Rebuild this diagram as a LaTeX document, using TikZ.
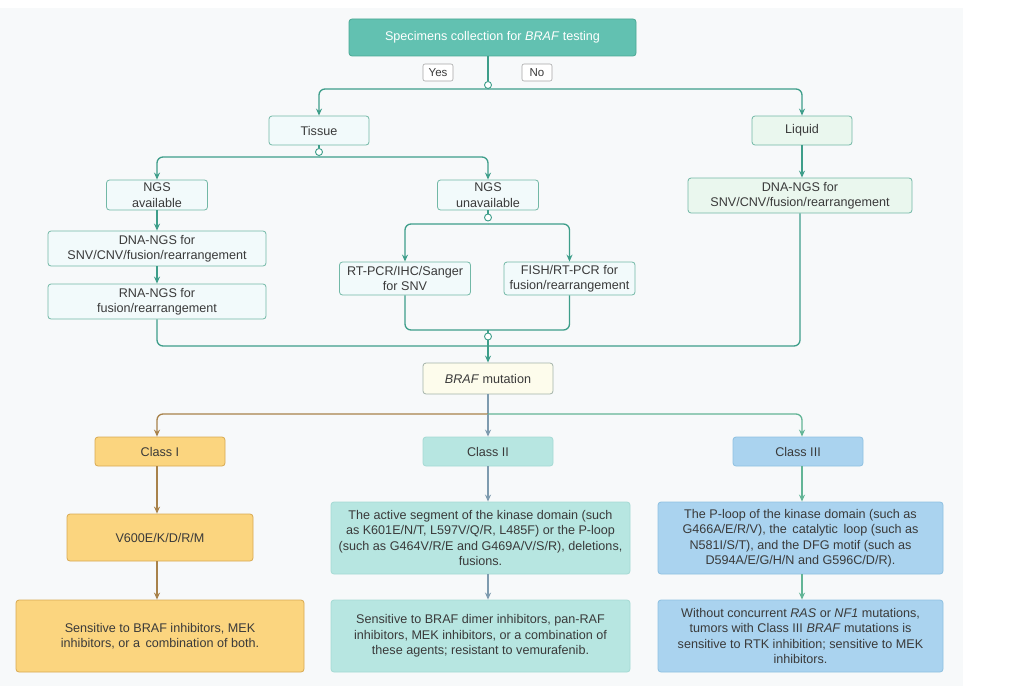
\documentclass[tikz,border=0pt]{standalone}
\usepackage{fontspec}
\setmainfont{Liberation Sans}
\usetikzlibrary{arrows.meta}
\definecolor{panel}{HTML}{F7F9FA}
\definecolor{txt}{HTML}{3A3A3A}
\definecolor{conn}{HTML}{3E9E8A}
\definecolor{topfill}{HTML}{62C1B1}
\definecolor{topdraw}{HTML}{4AA894}
\definecolor{lightfill}{HTML}{F2FAFB}
\definecolor{lightdraw}{HTML}{72B8A6}
\definecolor{liqfill}{HTML}{EAF7EE}
\definecolor{brfill}{HTML}{FDFCEC}
\definecolor{brdraw}{HTML}{A3B3AA}
\definecolor{cAfill}{HTML}{FBD57F}
\definecolor{cAdraw}{HTML}{D8AA52}
\definecolor{cAarr}{HTML}{A8824A}
\definecolor{cBfill}{HTML}{B7E6E1}
\definecolor{cBdraw}{HTML}{A5DAD4}
\definecolor{cBarr}{HTML}{7E9BAF}
\definecolor{cCfill}{HTML}{AAD3EF}
\definecolor{cCdraw}{HTML}{8FC1E1}
\definecolor{cCarr}{HTML}{62B596}
\tikzset{
  every node/.style={font=\fontsize{12.6}{15.5}\selectfont, text=txt, align=center, inner sep=1pt},
  box/.style={draw, rounded corners=3pt, line width=0.8pt},
  lbox/.style={box, draw=lightdraw, fill=lightfill},
  tag/.style={draw=gray!70, fill=white, rounded corners=2pt, line width=0.6pt, minimum width=30pt, minimum height=17pt, font=\fontsize{11.5}{13}\selectfont},
  junc/.style={circle, draw=conn, fill=white, line width=0.9pt, minimum size=7pt, inner sep=0pt},
  line/.style={draw=conn, line width=1.3pt, rounded corners=6pt},
  arr/.style={line, -{Stealth[length=7pt,width=6pt]}},
  arrA/.style={draw=cAarr, line width=1.3pt, rounded corners=6pt, -{Stealth[length=7pt,width=6pt]}},
  arrB/.style={draw=cBarr, line width=1.3pt, rounded corners=6pt, -{Stealth[length=7pt,width=6pt]}},
  arrC/.style={draw=cCarr, line width=1.3pt, rounded corners=6pt, -{Stealth[length=7pt,width=6pt]}},
  cA/.style={box, draw=cAdraw, fill=cAfill},
  cB/.style={box, draw=cBdraw, fill=cBfill},
  cC/.style={box, draw=cCdraw, fill=cCfill},
}
\begin{document}
\begin{tikzpicture}[x=1pt, y=-1pt]
\useasboundingbox (0,0) rectangle (1016,693);
\fill[panel] (0,8) rectangle (963,686);

\coordinate (xA) at (157,0);
\coordinate (xC) at (802,0);

% top
\node[box, draw=topdraw, fill=topfill, text=white, minimum width=287pt, minimum height=37pt] (top) at (492.5,37.5) {Specimens collection for \textit{BRAF} testing};
\node[tag] (yes) at (438,72.5) {Yes};
\node[tag] (no) at (537,72.5) {No};
\node[junc] (c1) at (488,85) {};
\coordinate (j1) at (488,89);

\node[lbox, minimum width=100pt, minimum height=29pt] (tissue) at (319,130.5) {Tissue};
\node[box, draw=lightdraw, fill=liqfill, minimum width=100pt, minimum height=29pt] (liquid) at (802,130.5) {Liquid};

\node[junc] (c2) at (319,152) {};
\coordinate (j2) at (319,157);
\node[lbox, minimum width=101pt, minimum height=30pt] (ngsa) at (157,195) {NGS\\available};
\node[lbox, minimum width=218pt, minimum height=35pt] (dna) at (157,248.5) {DNA-NGS for\\SNV/CNV/fusion/rearrangement};
\node[lbox, minimum width=218pt, minimum height=35pt] (rna) at (157,301.5) {RNA-NGS for\\fusion/rearrangement};

\node[lbox, minimum width=101pt, minimum height=30pt] (ngsu) at (488,195) {NGS\\unavailable};
\node[junc] (c3) at (488,217.5) {};
\coordinate (j3) at (488,224);
\node[lbox, minimum width=131pt, minimum height=33pt] (rt) at (405,278.5) {RT-PCR/IHC/Sanger\\for SNV};
\node[lbox, minimum width=131pt, minimum height=33pt] (fish) at (569.5,278.5) {FISH/RT-PCR for\\fusion/rearrangement};
\coordinate (m1) at (488,330);
\node[junc] (c4) at (488,336.5) {};
\coordinate (j5) at (488,346);

\node[box, draw=lightdraw, fill=liqfill, minimum width=224pt, minimum height=35pt] (ldna) at (800,195.5) {DNA-NGS for\\SNV/CNV/fusion/rearrangement};

\node[box, draw=brdraw, fill=brfill, minimum width=130pt, minimum height=31pt] (braf) at (488,378.5) {\textit{BRAF} mutation};
\coordinate (j6) at (488,414);

% classes
\node[cA, minimum width=130pt, minimum height=29pt] (k1) at (160,451.5) {Class I};
\node[cB, minimum width=130pt, minimum height=29pt] (k2) at (488,451.5) {Class II};
\node[cC, minimum width=130pt, minimum height=29pt] (k3) at (798,451.5) {Class III};

\node[cA, minimum width=186pt, minimum height=47pt] (v600) at (160,537.5) {V600E/K/D/R/M};
\node[cB, minimum width=299pt, minimum height=72pt] (d2) at (480.5,538) {The active segment of the kinase domain (such\\as K601E/N/T, L597V/Q/R, L485F) or the P-loop\\(such as G464V/R/E and G469A/V/S/R), deletions,\\fusions.};
\node[cC, minimum width=285pt, minimum height=72pt] (d3) at (800.5,538) {The P-loop of the kinase domain (such as\\G466A/E/R/V), the\, catalytic\, loop (such as\\N581I/S/T), and the DFG motif (such as\\D594A/E/G/H/N and G596C/D/R).};

\node[cA, minimum width=288pt, minimum height=72pt] (r1) at (160,636) {Sensitive to BRAF inhibitors, MEK\\inhibitors, or a\, combination of both.};
\node[cB, minimum width=299pt, minimum height=72pt] (r2) at (480.5,636) {Sensitive to BRAF dimer inhibitors, pan-RAF\\inhibitors, MEK inhibitors, or a combination of\\these agents; resistant to vemurafenib.};
\node[cC, minimum width=285pt, minimum height=72pt] (r3) at (800.5,636) {Without concurrent \textit{RAS} or \textit{NF1} mutations,\\tumors with Class III \textit{BRAF} mutations is\\sensitive to RTK inhibition; sensitive to MEK\\inhibitors.};

% connectors top
\draw[line] (top.south -| c1) -- (c1.north);
\draw[arr] (j1) -| (tissue.north);
\draw[arr] (j1) -| (liquid.north);
\draw[line] (tissue.south) -- (c2.north);
\draw[arr] (j2) -| (ngsa.north);
\draw[arr] (j2) -| (ngsu.north);
\draw[arr] (ngsa.south) -- (dna.north);
\draw[arr] (dna.south) -- (rna.north);
\draw[line] (ngsu.south) -- (c3.north);
\draw[arr] (j3) -| (rt.north);
\draw[arr] (j3) -| (fish.north);
\draw[line] (rt.south) |- (m1) -| (fish.south);
\draw[line] (m1) -- (c4.north);
\draw[line] (c4.south) -- (j5);
\draw[line] (rna.south) |- (j5) -| (ldna.south);
\draw[arr] (liquid.south) -- (liquid.south |- ldna.north);
\draw[arr] (j5) -- (braf.north);

% class connectors
\draw[draw=cBarr, line width=1.3pt] (braf.south) -- (j6);
\draw[arrA] (j6) -| (k1.north -| xA);
\draw[arrB] (j6) -- (k2.north);
\draw[arrC] (j6) -| (k3.north -| xC);
\draw[arrA] (k1.south -| xA) -- (v600.north -| xA);
\draw[arrA] (v600.south -| xA) -- (r1.north -| xA);
\draw[arrB] (k2.south) -- (k2.south |- d2.north);
\draw[arrB] (k2.south |- d2.south) -- (k2.south |- r2.north);
\draw[arrC] (k3.south -| xC) -- (d3.north -| xC);
\draw[arrC] (d3.south -| xC) -- (r3.north -| xC);
\end{tikzpicture}
\end{document}
